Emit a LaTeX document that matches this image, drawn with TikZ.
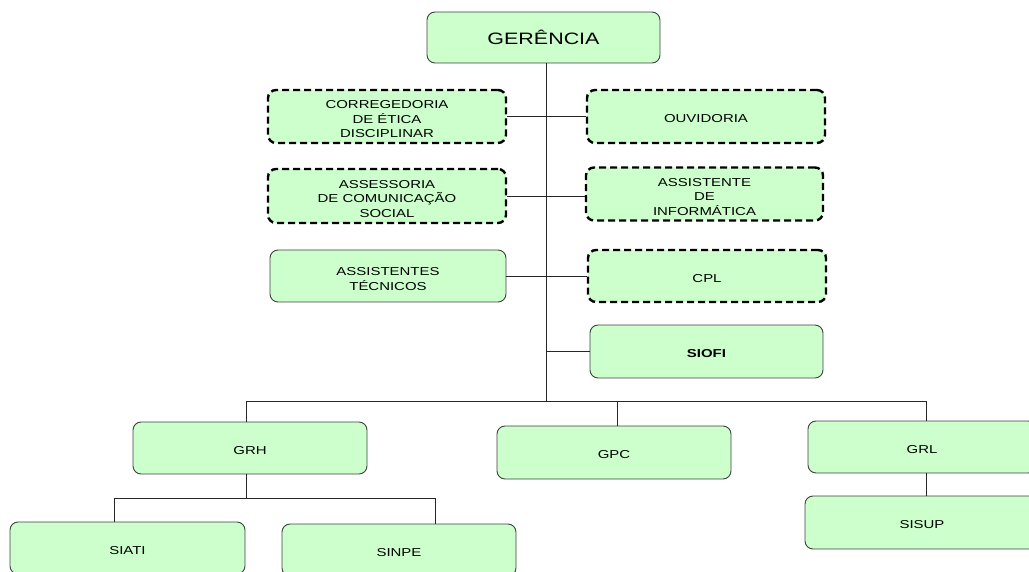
\documentclass[tikz,border=0pt]{standalone}
\usepackage{fontspec}
\setmainfont{Liberation Sans}[FakeStretch=1.3]
\definecolor{boxfill}{HTML}{CCFFCC}
\definecolor{boxline}{HTML}{404040}
\newcommand{\firstline}{\rule{0pt}{14pt}}
\begin{document}
\begin{tikzpicture}[x=1pt,y=-1pt,
  box/.style={draw=boxline, line width=0.9pt, fill=boxfill, rounded corners=8pt,
    align=center, inner sep=0pt, font=\fontsize{11.5}{14.5}\selectfont,
    execute at begin node={\rule{0pt}{12.5pt}}},
  mbox/.style={execute at begin node={}},
  topbox/.style={box, font=\fontsize{16.5}{20}\selectfont, execute at begin node={}},
  dbox/.style={box, draw=black, line width=2.4pt, dash pattern=on 7pt off 4pt},
  conn/.style={draw=black!85, line width=0.9pt}]
\useasboundingbox (0,0) rectangle (1029,572);
\clip (0,0) rectangle (1029,572);
% top
\node[topbox, minimum width=233, minimum height=51] (ger) at (543.5,37.5) {GERÊNCIA};
% trunk coordinates
\coordinate (t0) at (546,63);
\coordinate (bus) at (546,401);
\coordinate (bl) at (246,401);
\coordinate (bm) at (617,401);
\coordinate (br) at (926,401);
\draw[conn] (t0) -- (bus);
% staff boxes
\node[dbox, mbox, minimum width=238, minimum height=53] (cor) at (387,116.5) {\firstline CORREGEDORIA\\DE ÉTICA\\DISCIPLINAR};
\node[dbox, minimum width=238, minimum height=53] (ouv) at (706,116.5) {OUVIDORIA};
\node[dbox, mbox, minimum width=238, minimum height=54] (ass) at (387,196) {\firstline ASSESSORIA\\DE COMUNICAÇÃO\\SOCIAL};
\node[dbox, mbox, minimum width=237, minimum height=53] (inf) at (704.5,194) {\firstline ASSISTENTE\\DE\\INFORMÁTICA};
\node[box, mbox, minimum width=236, minimum height=52] (tec) at (388,276) {\firstline ASSISTENTES\\TÉCNICOS};
\node[dbox, minimum width=238, minimum height=52] (cpl) at (707,276) {CPL};
\node[box, minimum width=233, minimum height=53, font=\fontsize{11.5}{14.5}\selectfont\bfseries] (siofi) at (706.5,351.5) {SIOFI};
\draw[conn] (cor.east) -- (ouv.west);
\draw[conn] (ass.east) -- (ass.east -| inf.west);
\draw[conn] (tec.east) -- (cpl.west);
\draw[conn] (siofi.west -| bus) -- (siofi.west);
% lower level
\node[box, minimum width=234, minimum height=52] (grh) at (250,448) {GRH};
\node[box, minimum width=234, minimum height=53] (gpc) at (614,452.5) {GPC};
\node[box, minimum width=228, minimum height=52] (grl) at (922,447) {GRL};
\node[box, minimum width=234, minimum height=53] (sisup) at (922,522.5) {SISUP};
\node[box, minimum width=235, minimum height=52] (siati) at (127.5,548) {SIATI};
\node[box, minimum width=234, minimum height=52] (sinpe) at (399,550) {SINPE};
\draw[conn] (bl) -- (br);
\draw[conn] (bl) -- (bl |- grh.north);
\draw[conn] (bm) -- (bm |- gpc.north);
\draw[conn] (br) -- (br |- grl.north);
\draw[conn] (br |- grl.south) -- (br |- sisup.north);
\coordinate (sb) at (246,498);
\coordinate (sl) at (114,498);
\coordinate (sr) at (435,498);
\draw[conn] (bl |- grh.south) -- (sb);
\draw[conn] (sl) -- (sr);
\draw[conn] (sl) -- (sl |- siati.north);
\draw[conn] (sr) -- (sr |- sinpe.north);
\end{tikzpicture}
\end{document}
